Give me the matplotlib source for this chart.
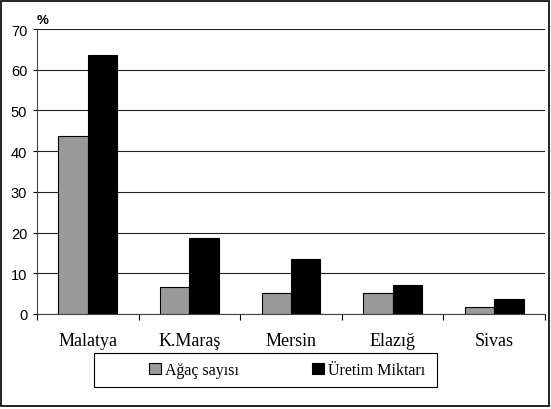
import matplotlib.pyplot as plt
import numpy as np
from matplotlib.patches import Rectangle

# data
cities = ['Malatya', 'K.Maraş', 'Mersin', 'Elazığ', 'Sivas']
agac_sayisi = [43.6, 6.7, 5.1, 5.1, 1.8]
uretim_miktari = [63.7, 18.6, 13.5, 7.2, 3.6]

fig = plt.figure(figsize=(5.51, 4.10), dpi=100)
ax = fig.add_axes([37/551, 95/410, 508/551, 285/410])

x = np.arange(len(cities))
w = 0.29
ax.bar(x - w/2, agac_sayisi, w, color='#999999', edgecolor='black', linewidth=0.8,
       label='Ağaç sayısı', zorder=3)
ax.bar(x + w/2, uretim_miktari, w, color='black', edgecolor='black', linewidth=0.8,
       label='Üretim Miktarı', zorder=3)

ax.set_xlim(-0.5, len(cities) - 0.5)
ax.set_ylim(0, 70)
ax.set_yticks(range(0, 71, 10))
ax.yaxis.grid(True, color='#222222', linewidth=0.8, zorder=0)
ax.tick_params(axis='y', direction='out', length=3, labelsize=10.5, colors='black', pad=4)
for lab in ax.get_yticklabels():
    lab.set_family('Liberation Sans')

# category ticks between groups
ax.set_xticks(np.arange(-0.5, len(cities)), minor=False)
ax.set_xticklabels([])
ax.set_xticks(x, minor=True)
ax.set_xticklabels(cities, minor=True, family='Liberation Serif', fontsize=13)
ax.tick_params(axis='x', which='major', direction='out', length=4)
ax.tick_params(axis='x', which='minor', length=0, pad=13)

for s in ['top', 'right']:
    ax.spines[s].set_visible(False)
ax.spines['left'].set_color('#444444')
ax.spines['bottom'].set_color('#444444')

ax.text(0.0, 1.01, '%', transform=ax.transAxes, fontsize=9.5, fontweight='bold',
        family='Liberation Sans', ha='left', va='bottom')

# legend box and entries
fig.patches.append(Rectangle((94/551, 22/410), 343/551, 34/410, transform=fig.transFigure,
                             fill=False, edgecolor='black', linewidth=0.8))
fig.legend(loc='center', ncol=2, bbox_to_anchor=(287/551, 39/410),
           frameon=False, prop={'family': 'Liberation Serif', 'size': 11.5},
           handlelength=0.75, handleheight=0.75, handletextpad=0.25,
           columnspacing=4.6, borderaxespad=0)

# outer frame
fig.patches.append(Rectangle((1/551, 3/410), 548/551, 405/410, transform=fig.transFigure,
                             fill=False, edgecolor='black', linewidth=1.2))

plt.savefig('out.png', dpi=100)
